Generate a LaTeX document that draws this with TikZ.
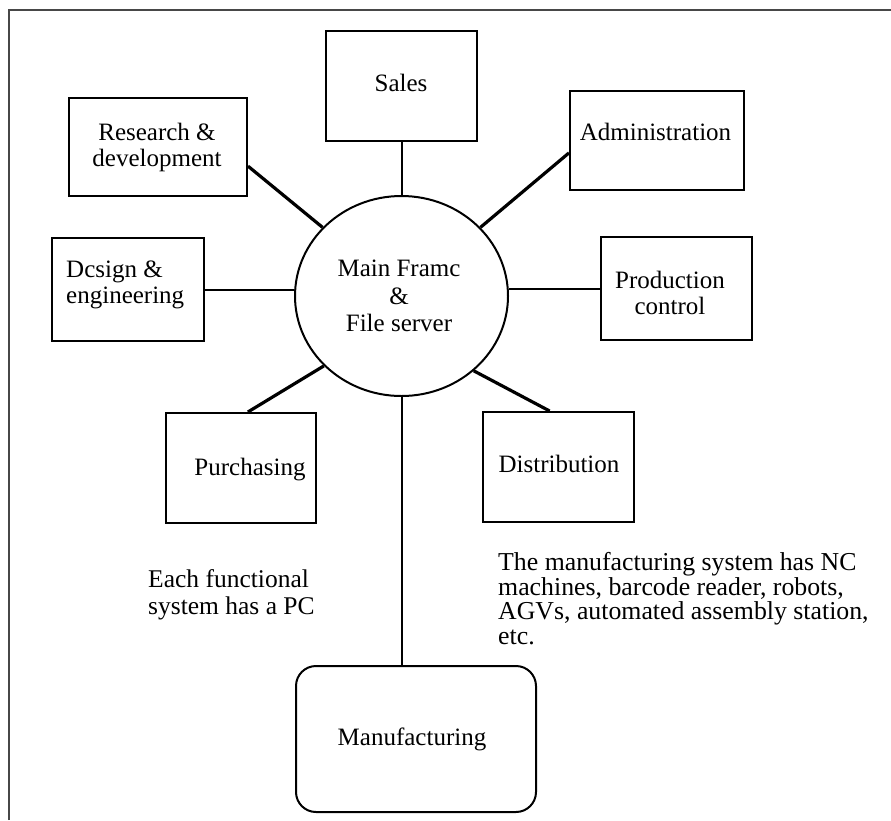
\documentclass[tikz,border=0pt]{standalone}
\usepackage{fontspec}
\setmainfont{Liberation Serif}
\usetikzlibrary{shapes.geometric}
\begin{document}
\begin{tikzpicture}[x=1pt,y=-1pt,
  unitbox/.style={draw, line width=2pt, rectangle, inner sep=0pt},
  hubshape/.style={draw, line width=2pt, ellipse, inner sep=0pt,
    minimum width=213pt, minimum height=200pt},
  boxtext/.style={font=\fontsize{25}{26}\selectfont, inner sep=0pt, align=center},
  notetext/.style={inner sep=0pt, align=left},
  link/.style={line width=2pt},
  heavylink/.style={line width=3.2pt},
  frameline/.style={draw=black!72, line width=1.6pt}]
\useasboundingbox (0,0) rectangle (891,820);

% outer frame (top and left edges only)
\draw[frameline] (9,820) -- (9,10) -- (891,10);

% central computer
\node[hubshape] (hub) at (401.5,296) {};
\node[boxtext, font=\fontsize{25}{27.5}\selectfont] (hubtxt) at (399,296)
  {Main Framc\\\&\\File server};

% functional departments
\node[unitbox, minimum width=151pt, minimum height=110pt] (sales) at (401.5,86) {};
\node[boxtext, anchor=base] (salestxt) at (401,91) {Sales};

\node[unitbox, minimum width=178pt, minimum height=98pt] (rd) at (158,147) {};
\node[boxtext] (rdtxt) at (157,147) {Research \&\\development};

\node[unitbox, minimum width=152pt, minimum height=103pt] (design) at (128,289.5) {};
\node[boxtext, align=left, anchor=west] (designtxt) at (66,284.7) {Dcsign \&\\engineering};

\node[unitbox, minimum width=174pt, minimum height=99pt] (admin) at (657,140.5) {};
\node[boxtext, anchor=base] (admintxt) at (655.5,140) {Administration};

\node[unitbox, minimum width=151pt, minimum height=103pt] (prod) at (676.5,288.5) {};
\node[boxtext] (prodtxt) at (670,292.6) {Production\\control};

\node[unitbox, minimum width=150pt, minimum height=110pt] (purch) at (241,468) {};
\node[boxtext, anchor=base] (purchtxt) at (250,475) {Purchasing};

\node[unitbox, minimum width=151pt, minimum height=110pt] (distr) at (558.5,467) {};
\node[boxtext, anchor=base] (distrtxt) at (559,472) {Distribution};

\node[unitbox, rounded corners=20pt, minimum width=240pt, minimum height=146pt] (manuf) at (416,739) {};
\node[boxtext, anchor=base] (manuftxt) at (412,745) {Manufacturing};

% connections to the central computer
\draw[link] (sales.south) -- (hub.north);
\draw[heavylink] (rd.-12) -- (hub.139.5);
\draw[link] (design.east) -- (design.east -| hub.west);
\draw[heavylink] (admin.188) -- (hub.41);
\draw[link] (prod.west) -- (prod.west -| hub.east);
\draw[heavylink] (purch.83) -- (hub.222);
\draw[heavylink] (distr.99) -- (hub.-46);
\draw[link] (hub.south) -- (hub.south |- manuf.north);

% notes
\node[notetext, anchor=west, font=\fontsize{25.5}{27}\selectfont] (pcnote) at (148,594.7)
  {Each functional\\system has a PC};
\node[notetext, anchor=west, font=\fontsize{25.8}{24.7}\selectfont] (mfgnote) at (498,598.6)
  {The manufacturing system has NC\\machines, barcode reader, robots,\\AGVs, automated assembly station,\\etc.};
\end{tikzpicture}
\end{document}
